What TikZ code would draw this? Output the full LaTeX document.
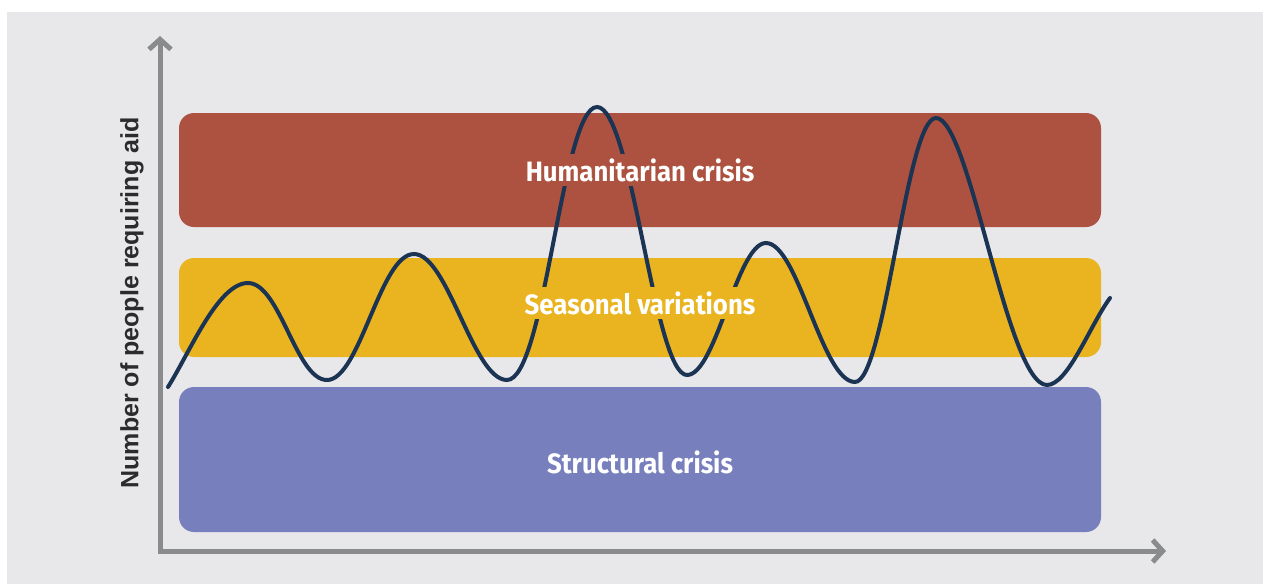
\documentclass[tikz,border=0pt]{standalone}
\usepackage{fontspec}
\setmainfont{Liberation Sans}
\newfontfamily\labfont[FakeStretch=0.92]{Fira Sans}
\usetikzlibrary{arrows.meta}
\definecolor{bgcol}{HTML}{E8E8EA}
\definecolor{axiscol}{HTML}{8A8B8D}
\definecolor{redcol}{HTML}{AD5240}
\definecolor{yelcol}{HTML}{E9B420}
\definecolor{bluecol}{HTML}{787FBD}
\definecolor{curvecol}{HTML}{1C3454}
\definecolor{txtcol}{HTML}{2B2B2B}
\tikzset{
  band/.style={rounded corners=15pt, draw=none},
  bandlabel/.style={font=\labfont\bfseries\fontsize{28}{30}\selectfont, text=white, inner xsep=2pt, inner ysep=4pt},
  axisline/.style={draw=axiscol, line width=5pt},
  tipstyle/.style={-{Straight Barb[length=10pt,width=22pt,line width=5pt]}},
  wave/.style={draw=curvecol, line width=4pt, line cap=round}
}
\begin{document}
\begin{tikzpicture}[x=1pt,y=-1pt]
\useasboundingbox (0,0) rectangle (1263,584);
\fill[white] (0,0) rectangle (1263,584);
\fill[bgcol] (7,12) rectangle (1263,584);
% bands
\fill[band, redcol] (179,113) rectangle (1101,227);
\fill[band, yelcol] (179,258) rectangle (1101,357);
\fill[band, bluecol] (179,387) rectangle (1101,532);
% axes
\coordinate (ytop) at (160,36);
\coordinate (xend) at (1166,551);
\draw[axisline, tipstyle] (160,553.5) -- (ytop);
\draw[axisline, tipstyle] (157.5,551) -- (xend);
% curve
\draw[wave] (168,387) .. controls (190,352) and (218,283) .. (248,283)
  .. controls (280,283) and (296,380) .. (327,380)
  .. controls (360,380) and (380,254) .. (414,254)
  .. controls (448,254) and (473,380) .. (507,380)
  .. controls (545,380) and (562,107) .. (597,107)
  .. controls (632,107) and (654,375) .. (687,375)
  .. controls (716,375) and (737,243) .. (766,243)
  .. controls (798,243) and (822,382) .. (855,382)
  .. controls (885,382) and (906,118) .. (936,118)
  .. controls (970,118) and (1007,385) .. (1047,385)
  .. controls (1068,385) and (1090,325) .. (1110,298);
% labels
\node[bandlabel, fill=redcol] (hum) at (640,170) {Humanitarian crisis};
\node[bandlabel, fill=yelcol] (sea) at (640,303) {Seasonal variations};
\node[bandlabel, fill=bluecol] (str) at (640,462) {Structural crisis};
\node[rotate=90, font=\bfseries\fontsize{25}{28}\selectfont, text=txtcol] (ylab) at (132,303) {Number of people requiring aid};
\end{tikzpicture}
\end{document}
